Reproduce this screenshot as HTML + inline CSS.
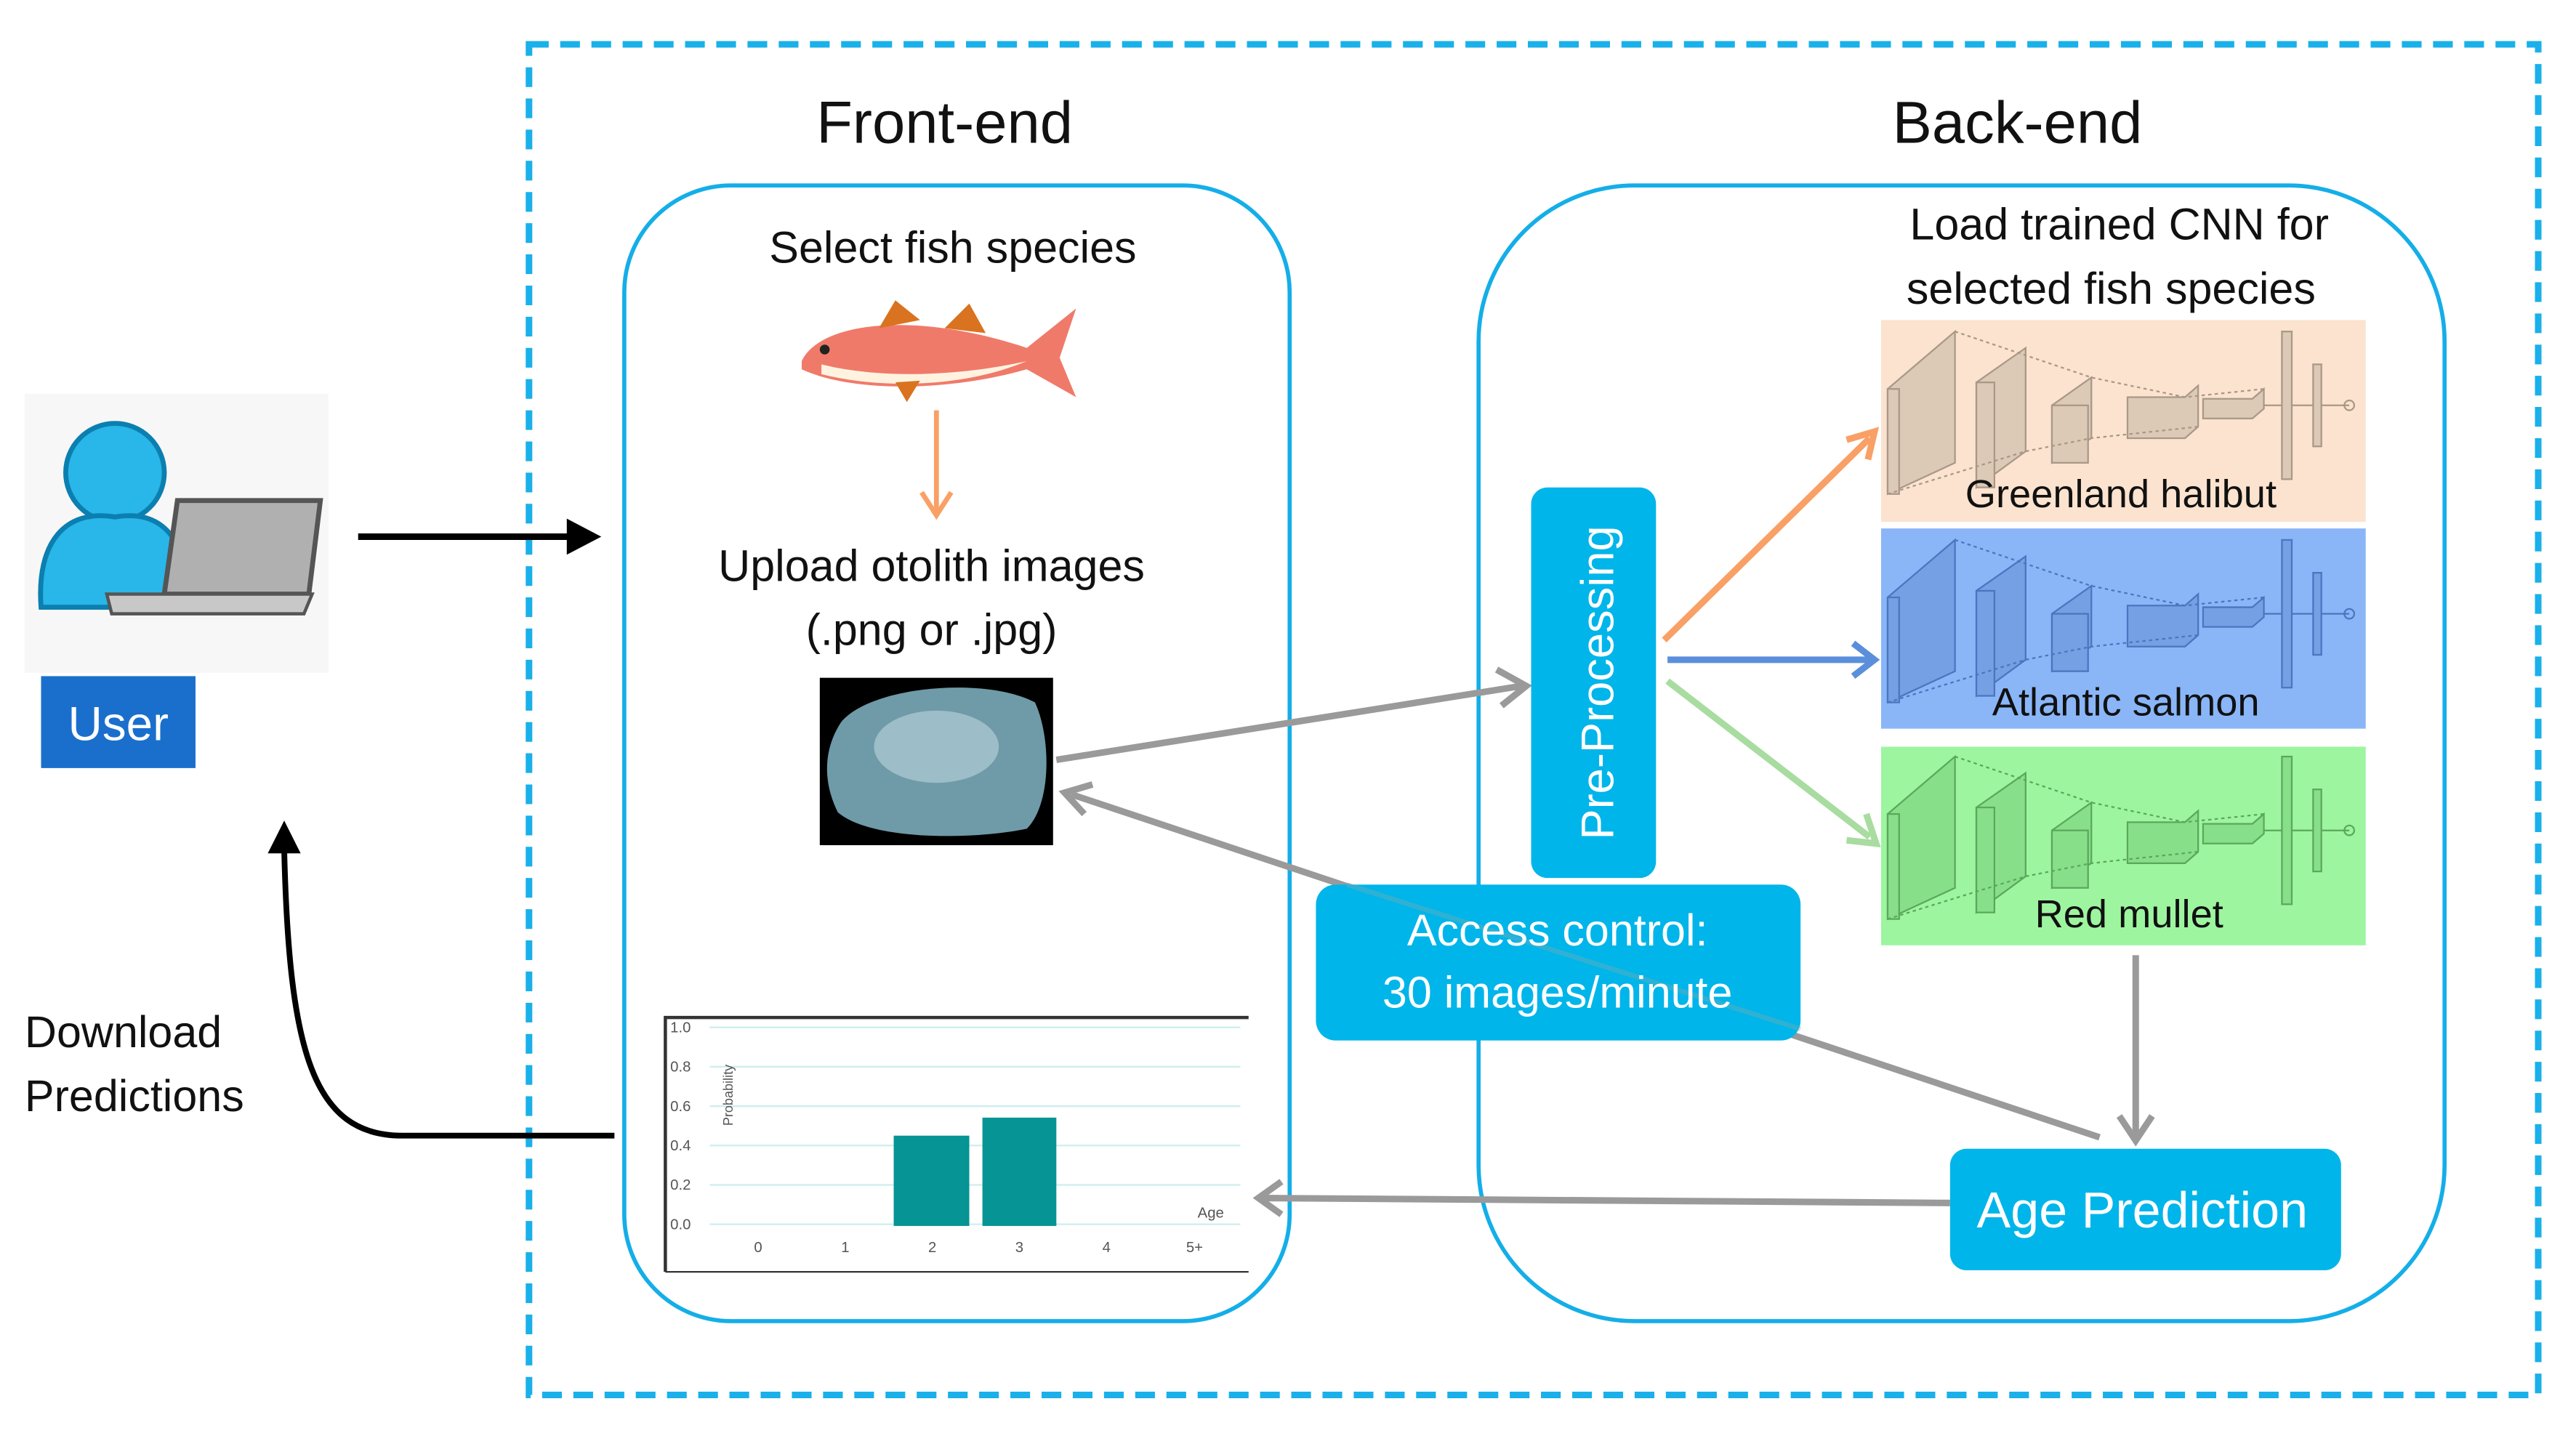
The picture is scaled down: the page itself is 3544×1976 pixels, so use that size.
<!DOCTYPE html>
<html><head><meta charset="utf-8"><style>
html,body{margin:0;padding:0;background:#fff}
svg{display:block}
text{font-family:"Liberation Sans","DejaVu Sans",sans-serif}
</style></head><body>
<svg width="3544" height="1976" viewBox="0 0 1568 875" preserveAspectRatio="none" xmlns="http://www.w3.org/2000/svg">
<defs>
<g id="cnn" stroke-width="1">
<path d="M4,40 L45,5 L45,85 L4,104 Z" />
<rect x="4" y="40" width="7" height="64"/>
<path d="M58,36 L88,15 L88,78 L58,100 Z"/>
<rect x="58" y="36" width="11" height="64"/>
<path d="M104,50 L128,33 L128,70 L104,85 Z"/>
<rect x="104" y="50" width="22" height="35"/>
<path d="M150,45 L185,45 L193,38 L193,63 L185,70 L150,70 Z"/>
<path d="M196,46 L226,46 L233,40 L233,52 L226,58 L196,58 Z"/>
<line x1="233" y1="50" x2="285" y2="50"/>
<rect x="244" y="5" width="6" height="90"/>
<rect x="263" y="25" width="5" height="50"/>
<circle cx="285" cy="50" r="3" fill="none"/>
<path d="M45,5 L128,33 L185,45 L233,40 M4,104 L88,78 L128,70 L193,63" stroke-dasharray="2,2" fill="none"/>
</g>
</defs>

<rect x="322" y="27" width="1223" height="823" fill="none" stroke="#1ab0ea" stroke-width="4" stroke-dasharray="12,7"/>
<text x="575" y="87" font-size="36" text-anchor="middle" fill="#111">Front-end</text>
<text x="1228" y="87" font-size="36" text-anchor="middle" fill="#111">Back-end</text>

<rect x="380" y="113" width="405" height="692" rx="65" fill="none" stroke="#14aee8" stroke-width="2.5"/>
<rect x="900" y="113" width="588" height="692" rx="95" fill="none" stroke="#14aee8" stroke-width="2.5"/>

<text x="580" y="160" font-size="27" text-anchor="middle" fill="#111">Select fish species</text>
<g>
<path d="M488,220 C500,195 560,190 625,212 L655,188 L645,218 L655,242 L625,225 C580,238 520,240 488,225 Z" fill="#f07a6a"/>
<path d="M500,222 C540,232 590,228 625,220 C590,235 540,238 500,228 Z" fill="#fff3e0"/>
<path d="M535,200 L545,183 L560,195 Z M575,200 L590,185 L600,203 Z M545,233 L552,245 L560,232 Z" fill="#d9731f"/>
<circle cx="502" cy="213" r="3" fill="#222"/>
</g>
<line x1="570" y1="250" x2="570" y2="312" stroke="#f9a066" stroke-width="3"/>
<path d="M561,300 L570,314 L579,300" fill="none" stroke="#f9a066" stroke-width="3"/>
<text x="567" y="354" font-size="27" text-anchor="middle" fill="#111">Upload otolith images</text>
<text x="567" y="393" font-size="27" text-anchor="middle" fill="#111">(.png or .jpg)</text>
<rect x="499" y="413" width="142" height="102" fill="#000"/>
<path d="M512,440 C530,418 600,412 630,428 C640,450 640,490 625,505 C590,512 530,512 510,495 C500,475 502,455 512,440 Z" fill="#6f9aa8"/>
<ellipse cx="570" cy="455" rx="38" ry="22" fill="#a9c6cf" opacity="0.8"/>

<rect x="405" y="620" width="355" height="155" fill="#fff"/>
<path d="M405,775 L405,620 L760,620" fill="none" stroke="#333" stroke-width="2"/>
<line x1="405" y1="775" x2="760" y2="775" stroke="#333" stroke-width="1"/>
<g stroke="#cdeeee" stroke-width="1">
<line x1="432" y1="626" x2="755" y2="626"/><line x1="432" y1="650" x2="755" y2="650"/><line x1="432" y1="674" x2="755" y2="674"/><line x1="432" y1="698" x2="755" y2="698"/><line x1="432" y1="722" x2="755" y2="722"/><line x1="432" y1="746" x2="755" y2="746"/></g>
<g font-size="9" fill="#555">
<text x="408" y="629">1.0</text><text x="408" y="653">0.8</text><text x="408" y="677">0.6</text><text x="408" y="701">0.4</text><text x="408" y="725">0.2</text><text x="408" y="749">0.0</text>
<text x="459" y="763">0</text><text x="512" y="763">1</text><text x="565" y="763">2</text><text x="618" y="763">3</text><text x="671" y="763">4</text><text x="722" y="763">5+</text>
<text x="729" y="742">Age</text>
<text transform="translate(446,686) rotate(-90)" font-size="8">Probability</text></g>
<rect x="544" y="692" width="46" height="55" fill="#069494"/>
<rect x="598" y="681" width="45" height="66" fill="#069494"/>

<rect x="15" y="240" width="185" height="170" fill="#f7f7f7"/>
<circle cx="70" cy="288" r="30" fill="#29b6e8" stroke="#0b7fb0" stroke-width="3"/>
<path d="M25,370 C22,330 40,310 70,315 C100,310 115,330 115,370 Z" fill="#29b6e8" stroke="#0b7fb0" stroke-width="3"/>
<path d="M108,305 L195,305 L188,362 L100,362 Z" fill="#b0b0b0" stroke="#555" stroke-width="3"/>
<path d="M65,362 L190,362 L185,374 L68,374 Z" fill="#c8c8c8" stroke="#555" stroke-width="2"/>
<rect x="25" y="412" width="94" height="56" fill="#1a6fcc"/>
<text x="72" y="451" font-size="29" text-anchor="middle" fill="#fff">User</text>
<line x1="218" y1="327" x2="352" y2="327" stroke="#000" stroke-width="4"/>
<path d="M345,316 L366,327 L345,338 Z" fill="#000"/>
<path d="M374,692 L245,692 C190,692 176,640 173,518" fill="none" stroke="#000" stroke-width="3.5"/>
<path d="M163,520 L173,500 L183,520 Z" fill="#000"/>
<text x="15" y="638" font-size="27" fill="#111">Download</text>
<text x="15" y="677" font-size="27" fill="#111">Predictions</text>

<g stroke="#9a9a9a" stroke-width="4" fill="none">
<line x1="643" y1="463" x2="926" y2="418"/>
<path d="M911,408 L929,418 L914,430"/>
<line x1="1278" y1="693" x2="652" y2="484"/>
<path d="M665,478 L648,483 L660,496"/>
<line x1="1187" y1="733" x2="768" y2="730"/>
<path d="M780,720 L766,730 L780,740"/>
<line x1="1300" y1="582" x2="1300" y2="693"/>
<path d="M1290,680 L1300,695 L1310,680"/>
</g>

<rect x="932" y="297" width="76" height="238" rx="10" fill="#00b5ea"/>
<text transform="translate(982,416) rotate(-90)" font-size="28" text-anchor="middle" fill="#fff">Pre-Processing</text>
<rect x="801" y="539" width="295" height="95" rx="12" fill="#00b5ea"/>
<line x1="1096" y1="627" x2="820" y2="539" stroke="#8aa" stroke-width="3" opacity="0.35"/>
<text x="948" y="576" font-size="27" text-anchor="middle" fill="#fff">Access control:</text>
<text x="948" y="614" font-size="27" text-anchor="middle" fill="#fff">30 images/minute</text>
<rect x="1187" y="700" width="238" height="74" rx="10" fill="#00b5ea"/>
<text x="1304" y="748" font-size="31" text-anchor="middle" fill="#fff">Age Prediction</text>

<g stroke-width="4" fill="none">
<line x1="1013" y1="390" x2="1138" y2="267" stroke="#f9a066"/>
<path d="M1124,268 L1141,263 L1137,280" stroke="#f9a066"/>
<line x1="1015" y1="402" x2="1138" y2="402" stroke="#5b8fdc"/>
<path d="M1128,392 L1141,402 L1128,412" stroke="#5b8fdc"/>
<line x1="1015" y1="415" x2="1138" y2="510" stroke="#a8dca0"/>
<path d="M1136,496 L1142,514 L1124,512" stroke="#a8dca0"/>
</g>

<text x="1290" y="146" font-size="27" text-anchor="middle" fill="#111">Load trained CNN for</text>
<text x="1285" y="185" font-size="27" text-anchor="middle" fill="#111">selected fish species</text>
<rect x="1145" y="195" width="295" height="123" fill="#fbe3cf"/>
<rect x="1145" y="322" width="295" height="122" fill="#8ab6f8"/>
<rect x="1145" y="455" width="295" height="121" fill="#9ef5a0"/>
<use href="#cnn" x="1145" y="197" stroke="#a99888" fill="#dcc9b6"/>
<use href="#cnn" x="1145" y="324" stroke="#4a76c0" fill="#76a0e4"/>
<use href="#cnn" x="1145" y="456" stroke="#5aa85c" fill="#88df8a"/>
<text x="1291" y="309" font-size="24" text-anchor="middle" fill="#111">Greenland halibut</text>
<text x="1294" y="436" font-size="24" text-anchor="middle" fill="#111">Atlantic salmon</text>
<text x="1296" y="565" font-size="24" text-anchor="middle" fill="#111">Red mullet</text>
</svg>
</body></html>
